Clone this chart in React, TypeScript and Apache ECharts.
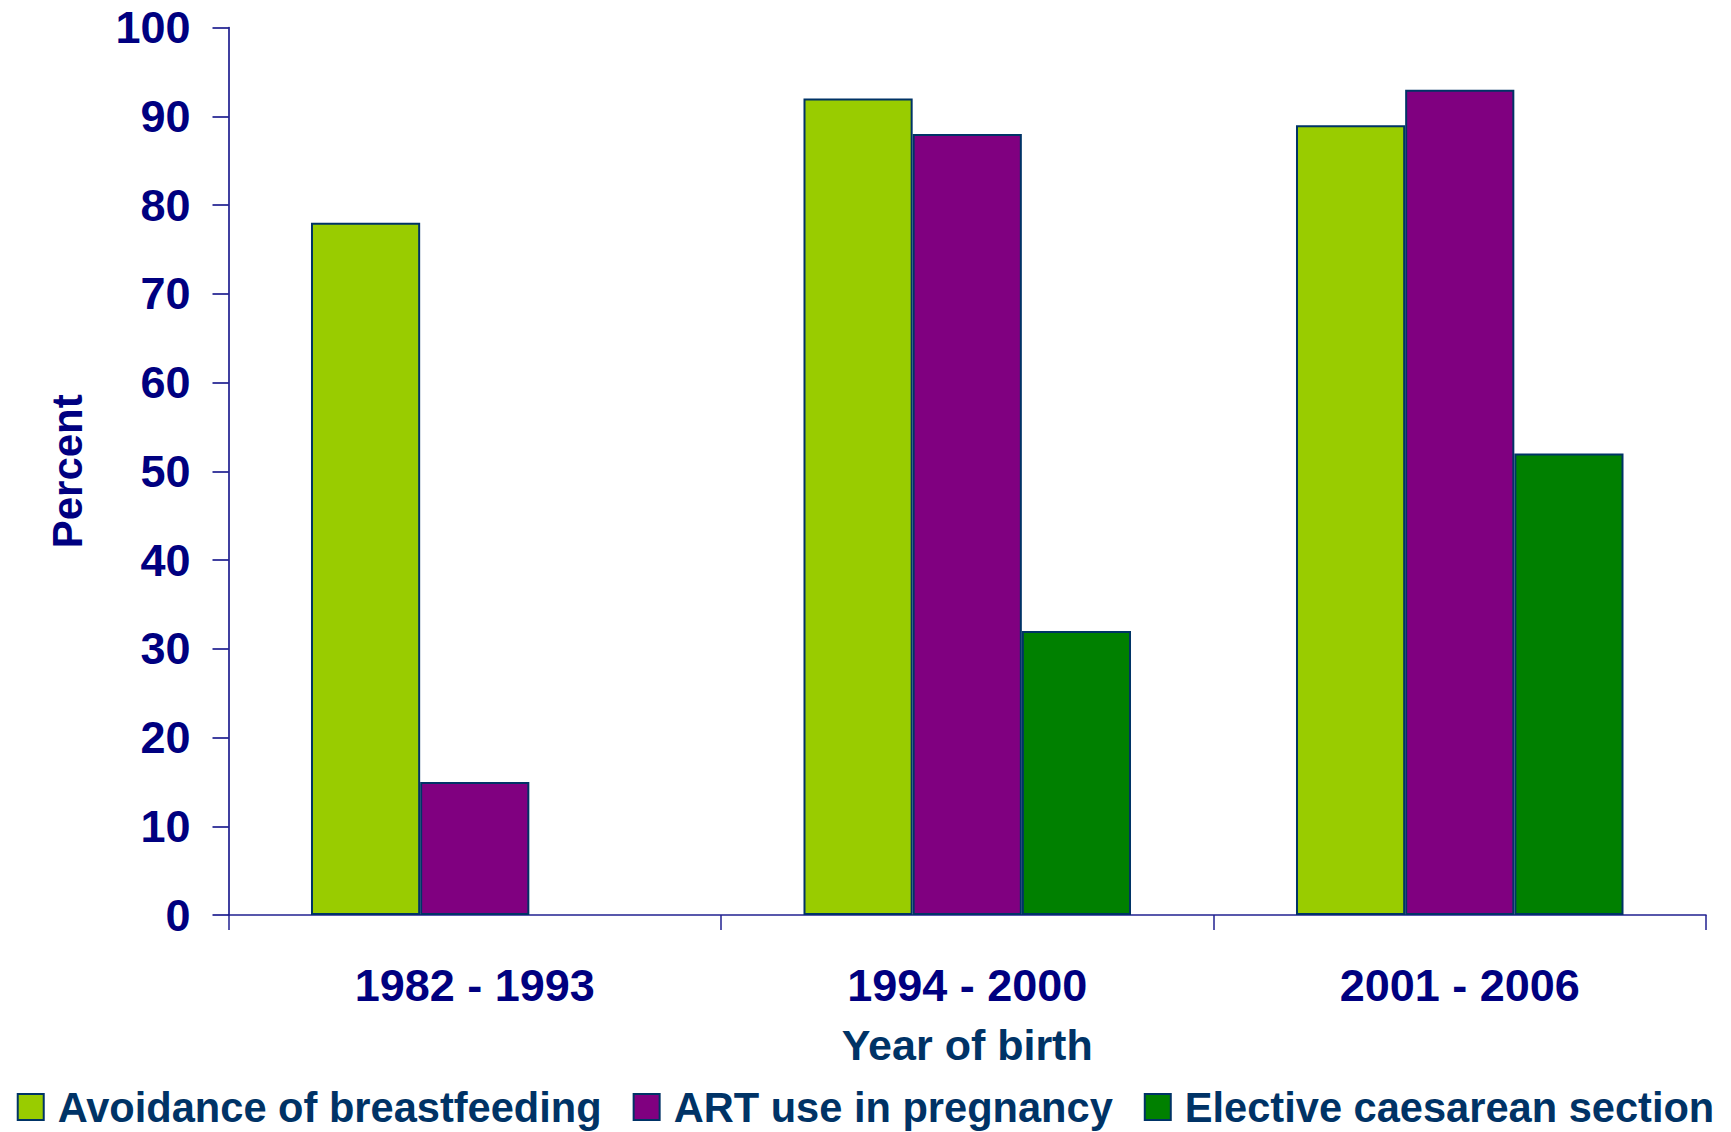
import React, { useEffect, useRef } from "react";
import * as echarts from "echarts";

const categories = ["1982 - 1993", "1994 - 2000", "2001 - 2006"];
const seriesNames = [
  "Avoidance of breastfeeding",
  "ART use in pregnancy",
  "Elective caesarean section",
];
const breastfeeding = [78, 92, 89];
const artUse = [15, 88, 93];
const caesarean: (number | null)[] = [null, 32, 52];
const seriesColors = ["#99CC00", "#800080", "#008000"];
const yTicks = { min: 0, max: 100, interval: 10 };

const FONT = "'Liberation Sans', Arial, Helvetica, sans-serif";

export default function App() {
  const ref = useRef<HTMLDivElement>(null);
  useEffect(() => {
    if (!ref.current) return;
    const chart = echarts.init(ref.current, null, { renderer: "svg" });
    const values = [breastfeeding, artUse, caesarean];
    chart.setOption({
      animation: false,
      backgroundColor: "#ffffff",
      textStyle: { fontFamily: FONT },
      grid: { left: 228.5, right: 25, top: 27.6, bottom: 217, containLabel: false },
      legend: {
        left: "center",
        bottom: 3,
        padding: 0,
        itemWidth: 26,
        itemHeight: 26,
        itemGap: 31,
        icon: "rect",
        textStyle: {
          fontFamily: FONT,
          fontWeight: "bold",
          fontSize: 41.6,
          lineHeight: 44,
          color: "#003366",
          padding: [0, 0, 0, 9],
        },
        data: seriesNames,
      },
      xAxis: {
        type: "category",
        data: categories,
        name: "Year of birth",
        nameLocation: "middle",
        nameGap: 108,
        nameTextStyle: {
          fontFamily: FONT,
          fontWeight: "bold",
          fontSize: 43,
          color: "#003366",
        },
        axisLine: { lineStyle: { color: "#202090", width: 1.5 } },
        axisTick: { show: true, alignWithLabel: false, length: 15, lineStyle: { color: "#202090", width: 1.5 } },
        axisLabel: {
          margin: 48,
          fontFamily: FONT,
          fontWeight: "bold",
          fontSize: 45,
          color: "#000080",
        },
      },
      yAxis: {
        type: "value",
        min: yTicks.min,
        max: yTicks.max,
        interval: yTicks.interval,
        name: "Percent",
        nameLocation: "middle",
        nameGap: 140,
        nameTextStyle: {
          fontFamily: FONT,
          fontWeight: "bold",
          fontSize: 42,
          color: "#000080",
        },
        splitLine: { show: false },
        axisLine: { show: true, lineStyle: { color: "#000080", width: 1.5 } },
        axisTick: { show: true, length: 16, lineStyle: { color: "#000080", width: 1.5 } },
        axisLabel: {
          margin: 38,
          fontFamily: FONT,
          fontWeight: "bold",
          fontSize: 45,
          color: "#000080",
        },
      },
      series: seriesNames.map((name, i) => ({
        name,
        type: "bar",
        data: values[i],
        barGap: "0%",
        barCategoryGap: "33.5%",
        itemStyle: {
          color: seriesColors[i],
          borderColor: "#003366",
          borderWidth: 2,
        },
      })),
    });
    return () => chart.dispose();
  }, []);
  return (
    <div
      ref={ref}
      style={{ position: "fixed", left: 0, top: 0, width: 1731, height: 1132 }}
    />
  );
}
